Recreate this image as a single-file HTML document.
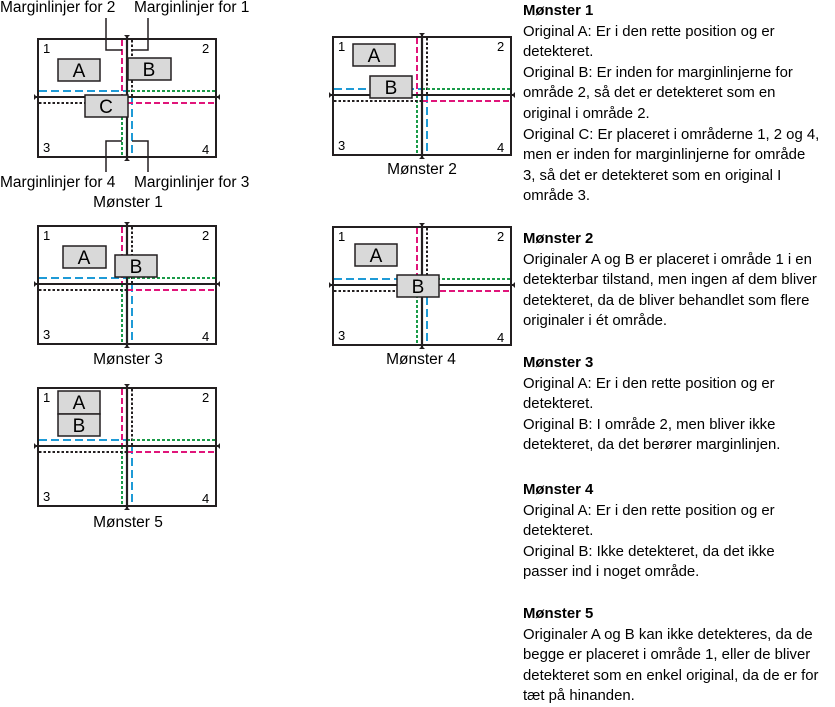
<!DOCTYPE html>
<html><head><meta charset="utf-8"><style>
body{margin:0;background:#fff;width:835px;height:707px;overflow:hidden;position:relative;font-family:"Liberation Sans",sans-serif;}
svg{position:absolute;left:0;top:0}
.t{position:absolute;left:523px;font-size:14.9px;line-height:20.6px;color:#000;white-space:nowrap}
.t b{font-weight:bold}
</style></head><body>
<svg width="835" height="707" viewBox="0 0 835 707" font-family="Liberation Sans, sans-serif">
<defs>
<g id="fr">
<rect x="0" y="0" width="178" height="118" fill="#fff" stroke="#231f20" stroke-width="2"/>
<line x1="84" y1="1" x2="84" y2="58" stroke="#e0157a" stroke-width="2" stroke-dasharray="6,3"/>
<line x1="94" y1="1" x2="94" y2="58" stroke="#231f20" stroke-width="2" stroke-dasharray="2.5,2"/>
<line x1="84" y1="58" x2="84" y2="117" stroke="#1a9a48" stroke-width="2" stroke-dasharray="3,2"/>
<line x1="94" y1="58" x2="94" y2="117" stroke="#1e9ad6" stroke-width="2" stroke-dasharray="8,4"/>
<line x1="1" y1="52" x2="89" y2="52" stroke="#1e9ad6" stroke-width="2" stroke-dasharray="8,4"/>
<line x1="89" y1="52" x2="177" y2="52" stroke="#1a9a48" stroke-width="2" stroke-dasharray="3,2"/>
<line x1="1" y1="64" x2="89" y2="64" stroke="#231f20" stroke-width="2" stroke-dasharray="2.5,2"/>
<line x1="89" y1="64" x2="177" y2="64" stroke="#e0157a" stroke-width="2" stroke-dasharray="6,3"/>
<line x1="-4" y1="58" x2="182" y2="58" stroke="#231f20" stroke-width="2"/>
<line x1="89" y1="-4" x2="89" y2="122" stroke="#231f20" stroke-width="2.2"/>
<path d="M-4,55 L-1,58 L-4,61Z M182,55 L179,58 L182,61Z M86,-4 L89,-1 L92,-4Z M86,122 L89,119 L92,122Z" fill="#231f20"/>
</g>
</defs>
<g font-size="13" fill="#000">
<g transform="translate(38,39)"><use href="#fr"/><text x="5" y="14">1</text><text x="164" y="14">2</text><text x="5" y="113">3</text><text x="164" y="115">4</text></g>
<g transform="translate(333,37)"><use href="#fr"/><text x="5" y="14">1</text><text x="164" y="14">2</text><text x="5" y="113">3</text><text x="164" y="115">4</text></g>
<g transform="translate(38,226)"><use href="#fr"/><text x="5" y="14">1</text><text x="164" y="14">2</text><text x="5" y="113">3</text><text x="164" y="115">4</text></g>
<g transform="translate(333,227)"><use href="#fr"/><text x="5" y="14">1</text><text x="164" y="14">2</text><text x="5" y="113">3</text><text x="164" y="115">4</text></g>
<g transform="translate(38,388)"><use href="#fr"/><text x="5" y="14">1</text><text x="164" y="14">2</text><text x="5" y="113">3</text><text x="164" y="115">4</text></g>
</g>
<g fill="#d9d9d9" stroke="#231f20" stroke-width="1.5">
<rect x="58" y="59" width="42" height="22"/><rect x="128" y="58" width="43" height="22"/><rect x="85" y="95" width="43" height="22"/>
<rect x="353" y="44" width="42" height="22"/><rect x="370" y="76" width="42" height="22"/>
<rect x="63" y="246" width="43" height="22"/><rect x="115" y="255" width="42" height="22"/>
<rect x="355" y="244" width="42" height="22"/><rect x="397" y="275" width="42" height="22"/>
<rect x="58" y="391" width="42" height="23"/><rect x="58" y="414" width="42" height="22"/>
</g>
<g font-size="19" text-anchor="middle" fill="#000">
<text x="79" y="77">A</text><text x="149" y="76">B</text><text x="106" y="113">C</text>
<text x="374" y="62">A</text><text x="391" y="94">B</text>
<text x="84" y="264">A</text><text x="136" y="273">B</text>
<text x="376" y="262">A</text><text x="418" y="293">B</text>
<text x="79" y="409">A</text><text x="79" y="432">B</text>
</g>
<g fill="none" stroke="#231f20" stroke-width="1.5">
<path d="M106,18 V50 H122"/><path d="M148,18 V50 H132"/>
<path d="M122,141 H106 V172"/><path d="M132,141 H148 V172"/>
</g>
<g font-size="15.5" fill="#000">
<text x="0" y="12">Marginlinjer for 2</text><text x="134" y="12">Marginlinjer for 1</text>
<text x="0" y="187">Marginlinjer for 4</text><text x="134" y="187">Marginlinjer for 3</text>
<g text-anchor="middle">
<text x="128" y="207">Mønster 1</text><text x="422" y="174">Mønster 2</text>
<text x="128" y="364">Mønster 3</text><text x="421" y="364">Mønster 4</text>
<text x="128" y="527">Mønster 5</text></g>
</g>
</svg>
<div class="t" style="top:1px"><b>Mønster 1</b><br>Original A: Er i den rette position og er<br>detekteret.<br>Original B: Er inden for marginlinjerne for<br>område 2, så det er detekteret som en<br>original i område 2.<br>Original C: Er placeret i områderne 1, 2 og 4,<br>men er inden for marginlinjerne for område<br>3, så det er detekteret som en original I<br>område 3.</div>
<div class="t" style="top:229px"><b>Mønster 2</b><br>Originaler A og B er placeret i område 1 i en<br>detekterbar tilstand, men ingen af dem bliver<br>detekteret, da de bliver behandlet som flere<br>originaler i ét område.</div>
<div class="t" style="top:353px"><b>Mønster 3</b><br>Original A: Er i den rette position og er<br>detekteret.<br>Original B: I område 2, men bliver ikke<br>detekteret, da det berører marginlinjen.</div>
<div class="t" style="top:480px"><b>Mønster 4</b><br>Original A: Er i den rette position og er<br>detekteret.<br>Original B: Ikke detekteret, da det ikke<br>passer ind i noget område.</div>
<div class="t" style="top:604px"><b>Mønster 5</b><br>Originaler A og B kan ikke detekteres, da de<br>begge er placeret i område 1, eller de bliver<br>detekteret som en enkel original, da de er for<br>tæt på hinanden.</div>
</body></html>
